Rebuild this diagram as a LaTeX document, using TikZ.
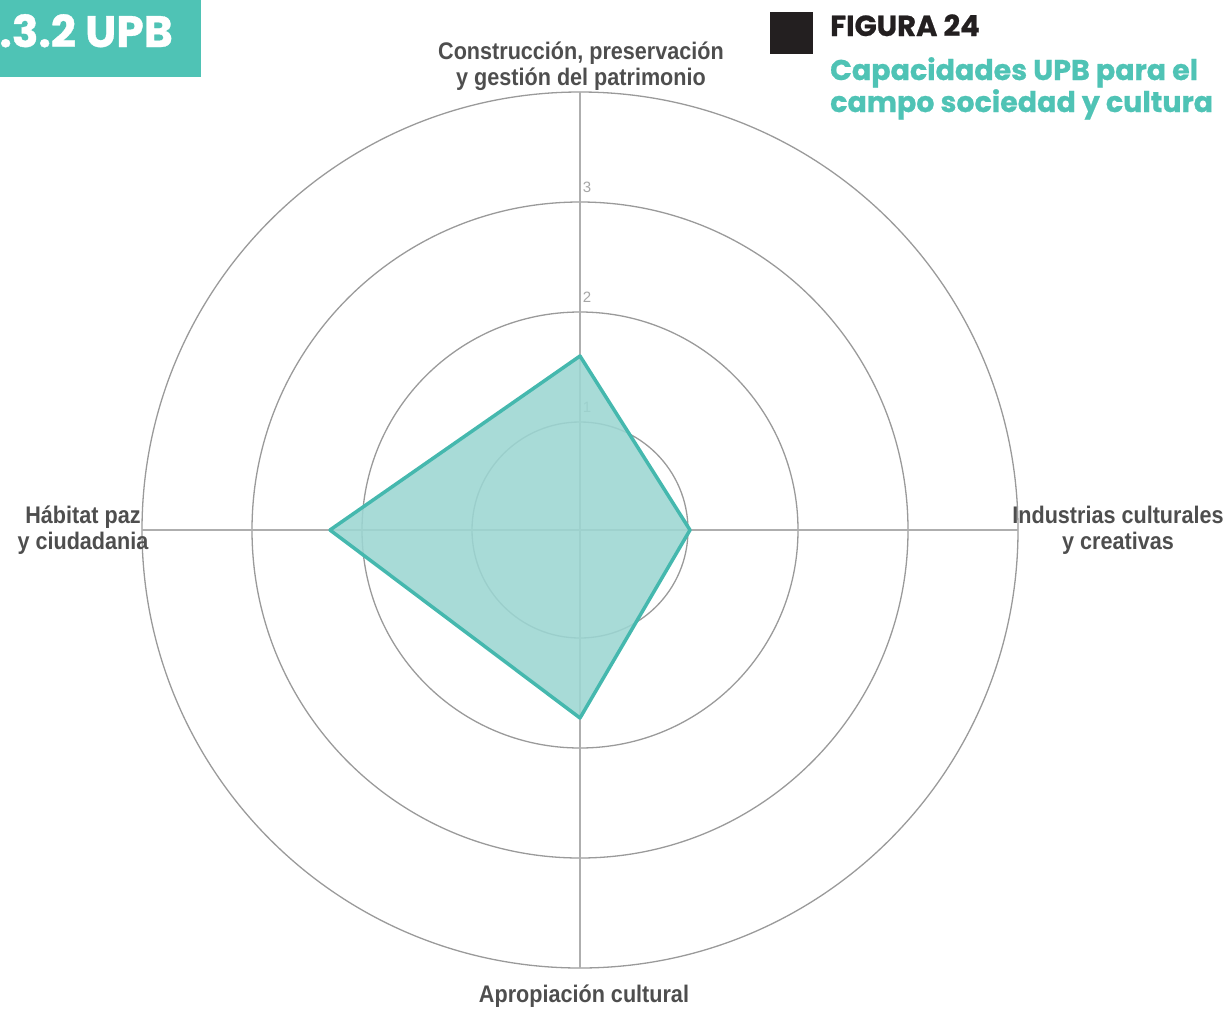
\documentclass[tikz,border=0pt]{standalone}
\usepackage{fontspec}
\setmainfont{Liberation Sans}
\newfontfamily\popfont{Poppins}[BoldFeatures={FakeBold=0.8}]
\newfontfamily\labfont{Liberation Sans}[FakeStretch=0.9]
\definecolor{upbteal}{HTML}{4FC3B5}
\definecolor{polyline}{HTML}{45B8AE}
\definecolor{polyfill}{HTML}{9CD6D2}
\definecolor{gridgray}{HTML}{9A9A9A}
\definecolor{labgray}{HTML}{4E4E4E}
\definecolor{sqblack}{HTML}{231F20}
\tikzset{
  ring/.style={draw=gridgray, line width=1.3pt},
  axisline/.style={draw=gridgray!80, line width=1.6pt},
  axislab/.style={font=\labfont\bfseries\fontsize{24}{26}\selectfont, text=labgray, align=center, inner sep=0pt},
  ticklab/.style={font=\fontsize{15}{15}\selectfont, text=gray!70, inner sep=0pt},
  radar/.style={fill=polyfill, fill opacity=0.88, draw=polyline, draw opacity=1, line width=3.5pt, line join=round}
}
\begin{document}
\begin{tikzpicture}[x=1pt,y=-1pt]
\useasboundingbox (0,0) rectangle (1228,1009);
\coordinate (C) at (580,530);
% rings
\foreach \r in {108,218,328,438} \draw[ring] (C) circle[radius=\r];
% axes
\coordinate (T) at (580,92);
\coordinate (B) at (580,968);
\coordinate (L) at (142,530);
\coordinate (R) at (1018,530);
\draw[axisline] (T) -- (B);
\draw[axisline] (L) -- (R);
% tick labels
\node[ticklab] (t1) at (587,407) {1};
\node[ticklab] (t2) at (587,297) {2};
\node[ticklab] (t3) at (587,187) {3};
% radar polygon
\coordinate (pT) at (580,356);
\coordinate (pR) at (690,530);
\coordinate (pB) at (580,718);
\coordinate (pL) at (330,530);
\draw[radar] (pT) -- (pR) -- (pB) -- (pL) -- cycle;
% axis labels
\node[axislab] (lt) at (581,66) {Construcción, preservación\\y gestión del patrimonio};
\node[axislab] (ll) at (83,530) {Hábitat paz\\y ciudadania};
\node[axislab] (lr) at (1118,530) {Industrias culturales\\y creativas};
\node[axislab] (lb) at (584,996) {Apropiación cultural};
% header box
\fill[upbteal] (0,0) rectangle (201,77);
\node[anchor=base east, inner sep=0pt, text=white, font=\popfont\bfseries\fontsize{44}{44}\selectfont] (hd) at (173,47) {.3.2 UPB};
% figure title
\fill[sqblack] (770,12) rectangle (813,54);
\node[anchor=base west, inner sep=0pt, text=sqblack, font=\popfont\bfseries\fontsize{29}{29}\selectfont] (fg) at (830,36) {FIGURA 24};
\node[anchor=base west, inner sep=0pt, text=upbteal, font=\popfont\bfseries\fontsize{28.5}{32}\selectfont] (ft1) at (830,80) {Capacidades UPB para el};
\node[anchor=base west, inner sep=0pt, text=upbteal, font=\popfont\bfseries\fontsize{28.5}{32}\selectfont] (ft2) at (830,112) {campo sociedad y cultura};
\end{tikzpicture}
\end{document}
